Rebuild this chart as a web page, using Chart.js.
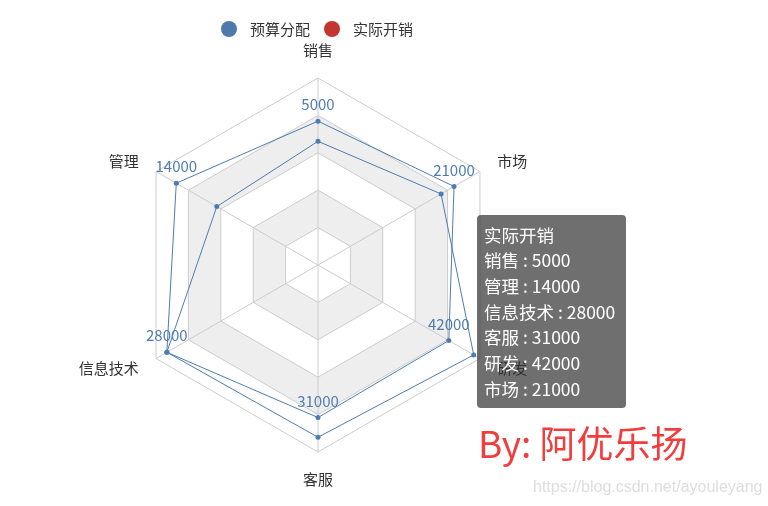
<!DOCTYPE html>
<html>
<head>
<meta charset="utf-8">
<script src="https://cdn.jsdelivr.net/npm/chart.js@4.4.1/dist/chart.umd.min.js"></script>
<style>
  html, body { margin: 0; padding: 0; background: #fff; }
  #wrap { width: 768px; height: 506px; position: relative; }
</style>
</head>
<body>
<div id="wrap"><canvas id="radarChart"></canvas></div>
<script>
// indicator order as in the original (counter-clockwise from top)
var indicators = ['销售', '管理', '信息技术', '客服', '研发', '市场'];
var maxValues = [6500, 16000, 30000, 38000, 52000, 25000];
var budget = [4300, 10000, 28000, 35000, 50000, 19000];
var actual = [5000, 14000, 28000, 31000, 42000, 21000];
var seriesNames = ['预算分配', '实际开销'];
var legendColors = ['#4e79a9', '#c23531'];
var lineColor = '#4f7cb0';

var FONT = '"Noto Sans CJK SC", "Noto Sans", sans-serif';

// chart.js goes clockwise, so walk the indicators the other way round
var order = [0, 5, 4, 3, 2, 1];
function pick(arr) { return order.map(function(i) { return arr[i]; }); }
function norm(arr) { return order.map(function(i) { return arr[i] / maxValues[i]; }); }

var extras = {
    id: 'extras',
    beforeDraw: function(chart) {
        var ctx = chart.ctx;
        var scale = chart.scales.r;
        var n = order.length;
        // alternating split areas
        for (var k = 4; k >= 0; k--) {
            var d = scale.getDistanceFromCenterForValue((k + 1) * 0.2);
            ctx.beginPath();
            for (var i = 0; i < n; i++) {
                var p = scale.getPointPosition(i, d);
                if (i === 0) ctx.moveTo(p.x, p.y); else ctx.lineTo(p.x, p.y);
            }
            ctx.closePath();
            ctx.fillStyle = (k % 2 === 1) ? '#eeeeee' : '#ffffff';
            ctx.fill();
        }
    },
    afterDraw: function(chart) {
        var ctx = chart.ctx;
        var scale = chart.scales.r;
        var labels = chart.data.labels;
        ctx.save();

        // axis names
        ctx.font = '15px ' + FONT;
        ctx.fillStyle = '#333';
        var dist = scale.drawingArea + 20;
        for (var i = 0; i < labels.length; i++) {
            var p = scale.getPointPosition(i, dist);
            var dx = p.x - scale.xCenter;
            var dy = p.y - scale.yCenter;
            if (Math.abs(dx) < 1) {
                ctx.textAlign = 'center';
                ctx.textBaseline = dy < 0 ? 'bottom' : 'top';
            } else {
                ctx.textAlign = dx < 0 ? 'right' : 'left';
                ctx.textBaseline = 'middle';
            }
            ctx.fillText(labels[i], p.x, p.y);
        }

        // value labels of 实际开销
        var meta = chart.getDatasetMeta(1);
        var raw = pick(actual);
        ctx.font = '15px ' + FONT;
        ctx.fillStyle = lineColor;
        ctx.textAlign = 'center';
        ctx.textBaseline = 'bottom';
        meta.data.forEach(function(pt, j) {
            ctx.fillText(String(raw[j]), pt.x, pt.y - 9);
        });

        // legend
        ctx.font = '15px ' + FONT;
        ctx.textAlign = 'left';
        ctx.textBaseline = 'middle';
        var lx = [229, 332];
        seriesNames.forEach(function(name, j) {
            ctx.beginPath();
            ctx.arc(lx[j], 29, 8, 0, Math.PI * 2);
            ctx.fillStyle = legendColors[j];
            ctx.fill();
            ctx.fillStyle = '#333';
            ctx.fillText(name, lx[j] + 21, 29);
        });

        // static tooltip
        var tx = 477, ty = 215, tw = 149, th = 193, r = 4;
        ctx.beginPath();
        ctx.moveTo(tx + r, ty);
        ctx.arcTo(tx + tw, ty, tx + tw, ty + th, r);
        ctx.arcTo(tx + tw, ty + th, tx, ty + th, r);
        ctx.arcTo(tx, ty + th, tx, ty, r);
        ctx.arcTo(tx, ty, tx + tw, ty, r);
        ctx.closePath();
        ctx.fillStyle = 'rgba(50,50,50,0.7)';
        ctx.fill();
        ctx.fillStyle = '#fff';
        ctx.font = '17.5px ' + FONT;
        ctx.textBaseline = 'middle';
        var lines = [seriesNames[1]];
        indicators.forEach(function(name, j) { lines.push(name + ' : ' + actual[j]); });
        lines.forEach(function(t, j) {
            ctx.fillText(t, 484, 235 + j * 25.7);
        });

        // watermark
        ctx.fillStyle = '#f23d3d';
        ctx.font = '37px ' + FONT;
        ctx.textBaseline = 'middle';
        ctx.fillText('By: 阿优乐扬', 478, 444);
        ctx.fillStyle = '#dddddd';
        ctx.font = '16px "Liberation Sans", Arial, sans-serif';
        ctx.fillText('https://blog.csdn.net/ayouleyang', 533, 488);
        ctx.restore();
    }
};

document.addEventListener('DOMContentLoaded', function() {
    var ctx = document.getElementById('radarChart').getContext('2d');
    var radarChart = new Chart(ctx, {
        type: 'radar',
        data: {
            labels: pick(indicators),
            datasets: [
                {
                    label: seriesNames[0],
                    data: norm(budget),
                    fill: false,
                    borderColor: lineColor,
                    borderWidth: 1,
                    pointRadius: 2.5,
                    pointBorderWidth: 0,
                    pointBackgroundColor: lineColor
                },
                {
                    label: seriesNames[1],
                    data: norm(actual),
                    fill: false,
                    borderColor: lineColor,
                    borderWidth: 1,
                    pointRadius: 2.5,
                    pointBorderWidth: 0,
                    pointBackgroundColor: lineColor
                }
            ]
        },
        options: {
            responsive: true,
            maintainAspectRatio: false,
            animation: false,
            layout: { padding: { top: 78, bottom: 54, left: 131, right: 263 } },
            plugins: {
                legend: { display: false },
                tooltip: { enabled: false }
            },
            elements: { line: { tension: 0 } },
            scales: {
                r: {
                    min: 0,
                    max: 1,
                    ticks: { display: false, stepSize: 0.2 },
                    grid: { color: '#cccccc', lineWidth: 1 },
                    angleLines: { color: '#cccccc', lineWidth: 1 },
                    pointLabels: { display: false }
                }
            }
        },
        plugins: [extras]
    });
});
</script>
</body>
</html>
